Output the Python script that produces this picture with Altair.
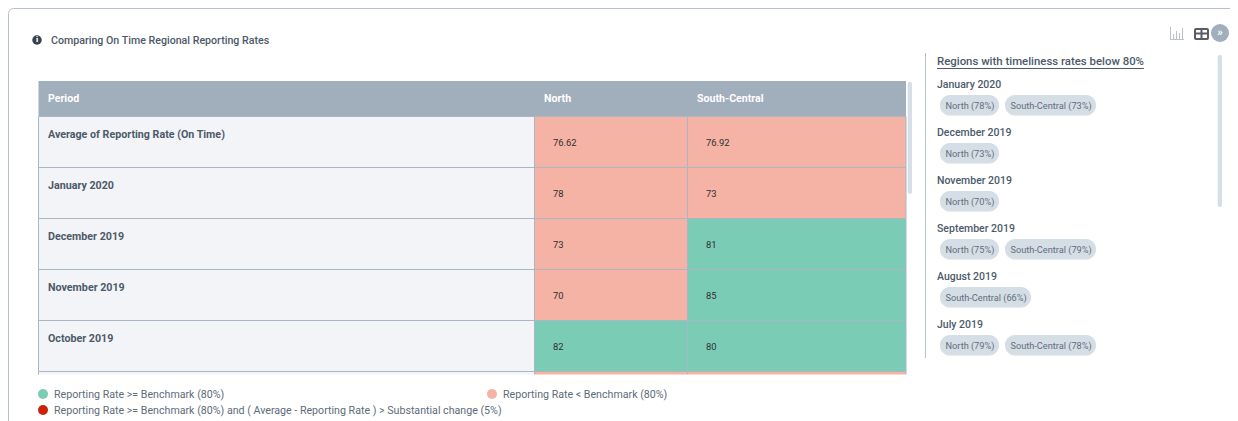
import altair as alt
import pandas as pd

# ---- data ----
COLUMNS = ["Period", "North", "South-Central"]
PERIODS = ["Average of Reporting Rate (On Time)", "January 2020", "December 2019",
           "November 2019", "October 2019", "September 2019"]
NORTH = ["76.62", "78", "73", "70", "82", "75"]
SOUTH = ["76.92", "73", "81", "85", "80", "79"]

PANEL_TITLE = "Regions with timeliness rates below 80%"
PANEL_PERIODS = ["January 2020", "December 2019", "November 2019",
                 "September 2019", "August 2019", "July 2019"]
PANEL_NORTH = [78, 73, 70, 75, None, 79]
PANEL_SOUTH = [73, None, None, 79, 66, 78]

TITLE = "Comparing On Time Regional Reporting Rates"
LEGEND_LABELS = ["Reporting Rate >= Benchmark (80%)",
                 "Reporting Rate < Benchmark (80%)",
                 "Reporting Rate >= Benchmark (80%) and ( Average - Reporting Rate ) > Substantial change (5%)"]

# ---- layout and style ----
W, H = 1222, 413
COL_EDGES = [38.5, 534.5, 687.5, 906]
ROW_TOP, ROW_STEP, N_ROWS = 116.5, 51, 6
VISIBLE_ROWS = 5  # the sixth row is scrolled out of view but for a sliver of its cells
LEGEND_POS = [(43, 394), (492, 394), (43, 410)]
GREEN, SALMON, RED = "#7bccb5", "#f4b3a4", "#c9240b"
HEADER, GRID, PERIOD_BG = "#a1aebb", "#aab6c4", "#f3f4f7"
INK, CHIP, SCROLL = "#4c5a6a", "#d5dde5", "#d6dfe7"
FONT = "Roboto"
STATUS = ["ok", "below", "drop"]


def PX(f="x"):
    return alt.X(f, type="quantitative", axis=None,
                 scale=alt.Scale(domain=[8, 8 + W], nice=False, zero=False))


def PY(f="y"):
    return alt.Y(f, type="quantitative", axis=None,
                 scale=alt.Scale(domain=[8 + H, 8], nice=False, zero=False))


def PX2(f="x2"):
    return alt.X2(f)


def PY2(f="y2"):
    return alt.Y2(f)


COL_SCALE = alt.Scale(domain=[0, 1, 2, 3], range=[e - 8 for e in COL_EDGES], nice=False, zero=False)
ROW_SCALE = alt.Scale(domain=[0, N_ROWS],
                      range=[ROW_TOP - 8, ROW_TOP - 8 + ROW_STEP * N_ROWS], nice=False, zero=False)
COLOR = alt.Scale(domain=STATUS, range=[GREEN, SALMON, RED])


def CX(f):
    return alt.X(f, type="quantitative", axis=None, scale=COL_SCALE)


def RY(f):
    return alt.Y(f, type="quantitative", axis=None, scale=ROW_SCALE)


def text(df, size, color=INK, weight=400, align="left", dx=0, dy=0):
    return alt.Chart(df).mark_text(font=FONT, fontSize=size, color=color, fontWeight=weight,
                                   align=align, baseline="middle", dx=dx, dy=dy)


def rect(rows, **kw):
    return alt.Chart(pd.DataFrame(rows)).mark_rect(**kw).encode(
        x=PX(), x2=PX2(), y=PY(), y2=PY2())


def rules(rows, color, width=1):
    return alt.Chart(pd.DataFrame(rows)).mark_rule(color=color, strokeWidth=width).encode(
        x=PX(), x2=PX2(), y=PY(), y2=PY2())


layers = []

# panel frame
layers.append(rect([dict(x=8.5, x2=1500, y=8.5, y2=700)], fill="white", stroke="#b5c0cc",
                   strokeWidth=1, cornerRadius=5))

# title with info icon
layers.append(alt.Chart(pd.DataFrame([dict(x=37, y=40)])).mark_circle(size=90, color="#37424f", opacity=1)
              .encode(x=PX(), y=PY()))
layers.append(text(pd.DataFrame([dict(x=37, y=40, t="i")]), 8, "white", 900, "center")
              .encode(x=PX(), y=PY(), text="t:N"))
layers.append(text(pd.DataFrame([dict(x=51, y=40, t=TITLE)]), 10.65, INK, 500, dy=0.7)
              .encode(x=PX(), y=PY(), text="t:N"))

# table cells
cells = []
for r, (p, n, s) in enumerate(zip(PERIODS, NORTH, SOUTH)):
    for c, v in enumerate((n, s), start=1):
        cells.append(dict(c0=c, c1=c + 1, r0=r, r1=r + 1, rm=r + 0.52, v=v,
                          status="ok" if float(v) >= 80 else "below"))
cells = pd.DataFrame(cells)
periods = pd.DataFrame(dict(c0=0, c1=1, r0=range(N_ROWS), r1=range(1, N_ROWS + 1), p=PERIODS))
periods["rl"] = periods["r0"] + 0.35
headers = pd.DataFrame(dict(c0=[0, 1, 2], r=-0.35, t=COLUMNS))

# header band, drawn on the pixel scale because it has no data row
layers.append(rect([dict(x=COL_EDGES[0], x2=COL_EDGES[3], y=81, y2=ROW_TOP)], fill=HEADER))
layers.append(alt.Chart(periods).mark_rect(fill=PERIOD_BG, stroke=GRID, strokeWidth=1)
              .encode(x=CX("c0"), x2="c1:Q", y=RY("r0"), y2="r1:Q"))
layers.append(alt.Chart(cells).mark_rect(stroke=GRID, strokeWidth=1)
              .encode(x=CX("c0"), x2="c1:Q", y=RY("r0"), y2="r1:Q",
                      color=alt.Color("status:N", scale=COLOR, legend=None)))
layers.append(text(headers, 10.6, "white", 700, dx=9.5).encode(x=CX("c0"), y=RY("r"), text="t:N"))
layers.append(text(periods[periods["r0"] < VISIBLE_ROWS], 10.7, INK, 700, dx=9.5, dy=0.7)
              .encode(x=CX("c0"), y=RY("rl"), text="p:N"))
layers.append(text(cells[cells["r0"] < VISIBLE_ROWS], 9.4, "#2f2f33", 400, dx=18.5)
              .encode(x=CX("c0"), y=RY("rm"), text="v:N"))

# mask below the scrolled table
layers.append(rect([dict(x=20, x2=918, y=374.5, y2=430)], fill="white"))

# table scrollbar
layers.append(rect([dict(x=907.7, x2=912, y=82, y2=194)], fill=SCROLL, cornerRadius=2))

# legend
legend = pd.DataFrame(dict(x=[p[0] for p in LEGEND_POS], y=[p[1] for p in LEGEND_POS],
                           status=STATUS, t=LEGEND_LABELS))
layers.append(alt.Chart(legend).mark_circle(size=100, opacity=1)
              .encode(x=PX(), y=PY(), color=alt.Color("status:N", scale=COLOR, legend=None)))
layers.append(text(legend, 10.65, "#5d6b7a", dx=11, dy=0.7).encode(x=PX(), y=PY(), text="t:N"))

# side panel
layers.append(rules([dict(x=925.5, x2=925.5, y=53, y2=358)], "#b5c0cc"))
layers.append(text(pd.DataFrame([dict(x=937, y=62, t=PANEL_TITLE)]), 11.4, INK, 500)
              .encode(x=PX(), y=PY(), text="t:N"))
layers.append(rules([dict(x=937, x2=1144, y=68.5, y2=68.5)], INK))
layers.append(rect([dict(x=1217.7, x2=1222, y=55, y2=207)], fill=SCROLL, cornerRadius=2))

panel_heads, chips = [], []
CHIP_W = {"North": 59, "South-Central": 91}
for i, (p, n, s) in enumerate(zip(PANEL_PERIODS, PANEL_NORTH, PANEL_SOUTH)):
    y = 84 + 48 * i
    panel_heads.append(dict(x=937, y=y, t=p))
    x = 940
    for region, v in (("North", n), ("South-Central", s)):
        if v is None:
            continue
        chips.append(dict(x=x, x2=x + CHIP_W[region], y=y + 11, y2=y + 31,
                          ys=y + 12, ys2=y + 32, ym=y + 21, xt=x + 5.5, t=f"{region} ({v}%)"))
        x += CHIP_W[region] + 6
chips = pd.DataFrame(chips)
layers.append(text(pd.DataFrame(panel_heads), 10.5, INK, 500, dy=0.7).encode(x=PX(), y=PY(), text="t:N"))
layers.append(alt.Chart(chips).mark_rect(fill="#c4ccd5", opacity=0.35, cornerRadius=10)
              .encode(x=PX(), x2="x2:Q", y=PY("ys"), y2="ys2:Q"))
layers.append(alt.Chart(chips).mark_rect(fill=CHIP, cornerRadius=10)
              .encode(x=PX(), x2="x2:Q", y=PY(), y2="y2:Q"))
layers.append(text(chips, 9.2, "#5f6e7e", dy=0.5).encode(x=PX("xt"), y=PY("ym"), text="t:N"))

# toolbar icons
layers.append(rules([dict(x=1170.5, x2=1170.5, y=27, y2=40), dict(x=1170, x2=1184, y=39.5, y2=39.5),
                     dict(x=1173.5, x2=1173.5, y=34, y2=39), dict(x=1176.5, x2=1176.5, y=31, y2=39),
                     dict(x=1179.5, x2=1179.5, y=33, y2=39), dict(x=1182.5, x2=1182.5, y=28, y2=39)],
                    "#bcc1c7"))
layers.append(rect([dict(x=1195, x2=1208, y=29, y2=39)], fill="white", stroke="#5a5c63",
                   strokeWidth=2, cornerRadius=1))
layers.append(rules([dict(x=1201.5, x2=1201.5, y=29, y2=39), dict(x=1195, x2=1208, y=33.5, y2=33.5)],
                    "#5a5c63", 2))
layers.append(alt.Chart(pd.DataFrame([dict(x=1220, y=33)])).mark_circle(size=324, color=HEADER, opacity=1)
              .encode(x=PX(), y=PY()))
layers.append(text(pd.DataFrame([dict(x=1220, y=32.5, t="»")]), 11, "white", 700, "center")
              .encode(x=PX(), y=PY(), text="t:N"))

chart = (alt.layer(*layers)
         .resolve_scale(x="independent", y="independent", color="independent")
         .properties(width=W, height=H, padding=0, background="white",
                     autosize=alt.AutoSizeParams(type="none"))
         .configure_view(stroke=None))

chart.save("out.html", embed_options={"renderer": "svg", "actions": False})
